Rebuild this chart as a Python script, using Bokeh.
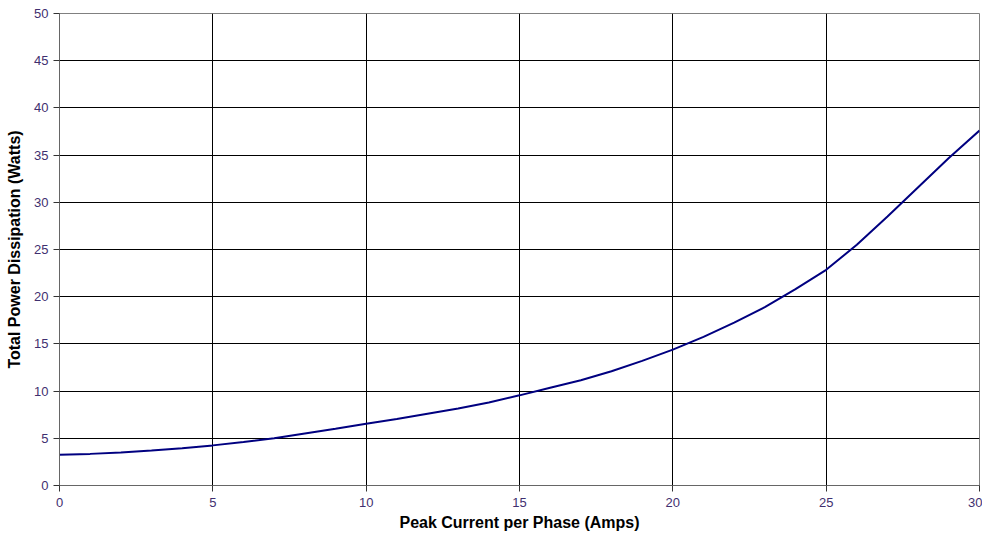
from bokeh.plotting import figure
from bokeh.embed import file_html
from bokeh.resources import INLINE
from bokeh.models import Range1d, FixedTicker

current = list(range(0, 31))
power = [3.25, 3.35, 3.5, 3.7, 3.95, 4.25, 4.6, 5.0, 5.5, 6.0, 6.55,
         7.05, 7.6, 8.15, 8.8, 9.55, 10.35, 11.15, 12.1, 13.2, 14.4,
         15.75, 17.25, 18.9, 20.8, 22.85, 25.5, 28.5, 31.6, 34.7, 37.6]
x_ticks = [0, 5, 10, 15, 20, 25, 30]
y_ticks = [0, 5, 10, 15, 20, 25, 30, 35, 40, 45, 50]

p = figure(width=982, height=534, output_backend="svg", toolbar_location=None,
           x_range=Range1d(0, 30), y_range=Range1d(0, 50),
           min_border_left=59, min_border_right=3, min_border_top=13, min_border_bottom=49)

p.line(current, power, line_color="#000080", line_width=2)

p.xaxis.ticker = FixedTicker(ticks=x_ticks)
p.yaxis.ticker = FixedTicker(ticks=y_ticks)
for ax in (p.xaxis[0], p.yaxis[0]):
    ax.axis_line_color = "#666666"
    ax.major_tick_line_color = "#333333"
    ax.major_tick_out = 6
    ax.major_tick_in = 0
    ax.minor_tick_line_color = None
    ax.major_label_text_font = "Liberation Sans"
    ax.major_label_text_font_size = "13px"
    ax.major_label_text_color = "#3f2f6f"
    ax.axis_label_text_font = "Liberation Sans"
    ax.axis_label_text_font_size = "16px"
    ax.axis_label_text_font_style = "bold"
    ax.axis_label_text_color = "#000000"

p.xaxis.axis_label = "Peak Current per Phase (Amps)"
p.yaxis.axis_label = "Total Power Dissipation (Watts)"
p.xaxis.major_label_standoff = 6
p.xaxis.axis_label_standoff = 4
p.yaxis.major_label_standoff = 5
p.yaxis.axis_label_standoff = 8

p.xgrid.grid_line_color = "#000000"
p.ygrid.grid_line_color = "#000000"
p.xgrid.grid_line_width = 1
p.ygrid.grid_line_width = 1
p.outline_line_color = "#808080"
p.background_fill_color = "white"
p.border_fill_color = "white"

open("out.html", "w").write(file_html(p, INLINE))
